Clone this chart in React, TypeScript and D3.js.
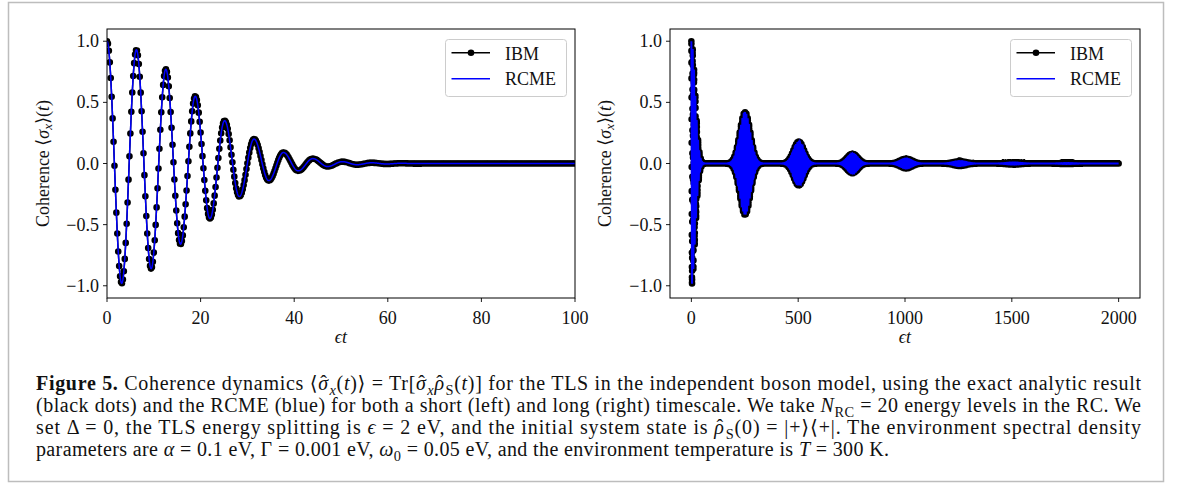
import React from 'react';
import * as d3 from 'd3';

const W = 1182;
const H = 484;

// ---- data ----
// Left panel: x axis εt 0..100, extrema of the oscillation at εt = kπ
const leftXTicks = [0, 20, 40, 60, 80, 100];
const yTicks = [-1, -0.5, 0, 0.5, 1];
const yTickLabels = ['−1.0', '−0.5', '0.0', '0.5', '1.0'];
const leftExtrema = [
  1.0, -0.98, 0.93, -0.86, 0.77, -0.66, 0.55, -0.45, 0.35, -0.27, 0.2, -0.14,
  0.09, -0.06, 0.04, -0.025, 0.015, -0.01, 0.006, -0.004, 0.002, -0.001,
];
const leftStepIBM = 0.2;

// Right panel: x axis εt 0..2000, revivals of the envelope
const rightXTicks = [0, 500, 1000, 1500, 2000];
const revivalTimes = [0, 251.3, 502.7, 754.0, 1005.3, 1256.6, 1508.0, 1759.3];
const revivalAmps = [1.0, 0.42, 0.18, 0.08, 0.04, 0.02, 0.009, 0.004];
const revivalWidths = [17.3, 25, 25, 25, 28, 31, 34, 36];
const rightStepIBM = 0.2;

const legendLabels = ['IBM', 'RCME'];

const FONT = "'Liberation Serif', 'DejaVu Serif', serif";
const DOT_R = 3.3;

function leftValue(t: number): number {
  const k = Math.floor(t / Math.PI);
  const a = leftExtrema[k] ?? 0;
  const b = leftExtrema[k + 1] ?? 0;
  const c = Math.cos(t - k * Math.PI);
  return (a * (1 + c)) / 2 + (b * (1 - c)) / 2;
}

function rightValue(t: number): number {
  let env = 0;
  for (let i = 0; i < revivalTimes.length; i++) {
    const d = t - revivalTimes[i];
    env += revivalAmps[i] * Math.exp(-(d * d) / (2 * revivalWidths[i] * revivalWidths[i]));
  }
  return env * Math.cos(t);
}

function samples(t0: number, t1: number, dt: number, f: (t: number) => number) {
  const n = Math.round((t1 - t0) / dt);
  return d3.range(n + 1).map((i) => {
    const t = t0 + i * dt;
    return [t, f(t)] as [number, number];
  });
}

type Seg = { t: string; i?: boolean; b?: boolean; sub?: boolean; hat?: boolean };

function Rich({ segs, x, y, size, textLength }: { segs: Seg[]; x: number; y: number; size: number; textLength?: number }) {
  let prevSub = false;
  let pendingDx = 0;
  const shift = size * 0.25;
  const out: React.ReactNode[] = [];
  segs.forEach((s, k) => {
    let dy = 0;
    if (s.sub && !prevSub) dy = shift;
    if (!s.sub && prevSub) dy = -shift;
    prevSub = !!s.sub;
    out.push(
      <tspan
        key={k}
        dx={pendingDx || undefined}
        dy={dy || undefined}
        fontStyle={s.i ? 'italic' : undefined}
        fontWeight={s.b ? 'bold' : undefined}
        fontSize={s.sub ? size * 0.72 : undefined}
      >
        {s.t}
      </tspan>
    );
    pendingDx = 0;
    if (s.hat) {
      out.push(
        <tspan key={k + 'h'} dx={-0.42 * size}>
          ˆ
        </tspan>
      );
      pendingDx = 0.09 * size;
    }
  });
  return (
    <text
      x={x}
      y={y}
      fontFamily={FONT}
      fontSize={size}
      fill="#111"
      {...(textLength ? { textLength, lengthAdjust: 'spacing' } : {})}
    >
      {out}
    </text>
  );
}

type PanelProps = {
  id: string;
  left: number;
  right: number;
  top: number;
  bottom: number;
  xDomain: [number, number];
  xTicks: number[];
  ibm: [number, number][];
  rcme: [number, number][];
  ylabelX: number;
  rcmeWidth: number;
};

function Panel(p: PanelProps) {
  const x = d3.scaleLinear().domain(p.xDomain).range([p.left, p.right]);
  const y = d3.scaleLinear().domain([-1.1, 1.1]).range([p.bottom, p.top]);
  const line = d3
    .line<[number, number]>()
    .x((d) => x(d[0]))
    .y((d) => y(d[1]));
  const dots = p.ibm
    .map((d) => {
      const cx = x(d[0]);
      const cy = y(d[1]);
      return `M${(cx - DOT_R).toFixed(2)},${cy.toFixed(2)}a${DOT_R},${DOT_R} 0 1,0 ${2 * DOT_R},0a${DOT_R},${DOT_R} 0 1,0 ${-2 * DOT_R},0`;
    })
    .join('');
  const cy = (p.top + p.bottom) / 2;
  const cx = (p.left + p.right) / 2;
  const lgX = p.right - 8.5 - 121;
  const lgY = 39.5;
  return (
    <g>
      <defs>
        <clipPath id={p.id}>
          <rect x={p.left} y={p.top} width={p.right - p.left} height={p.bottom - p.top} />
        </clipPath>
      </defs>
      <g clipPath={`url(#${p.id})`}>
        <path d={line(p.ibm) || ''} fill="none" stroke="#000" strokeWidth={1.5} />
        <path d={dots} fill="#000" />
        <path d={line(p.rcme) || ''} fill="none" stroke="#0000ff" strokeWidth={p.rcmeWidth} />
      </g>
      <rect x={p.left} y={p.top} width={p.right - p.left} height={p.bottom - p.top} fill="none" stroke="#000" strokeWidth={1} />
      {p.xTicks.map((t) => (
        <g key={t}>
          <line x1={x(t)} x2={x(t)} y1={p.bottom} y2={p.bottom + 4} stroke="#000" strokeWidth={0.9} />
          <text x={x(t)} y={p.bottom + 25.5} textAnchor="middle" fontFamily={FONT} fontSize={18} fill="#111">
            {t}
          </text>
        </g>
      ))}
      {yTicks.map((t, k) => (
        <g key={t}>
          <line x1={p.left - 4} x2={p.left} y1={y(t)} y2={y(t)} stroke="#000" strokeWidth={0.9} />
          <text x={p.left - 8} y={y(t) + 6} textAnchor="end" fontFamily={FONT} fontSize={18} fill="#111">
            {yTickLabels[k]}
          </text>
        </g>
      ))}
      <text x={cx} y={p.bottom + 45} textAnchor="middle" fontFamily={FONT} fontSize={18} fontStyle="italic" fill="#111">
        ϵt
      </text>
      <text
        transform={`translate(${p.ylabelX},${cy}) rotate(-90)`}
        textAnchor="middle"
        dominantBaseline="central"
        fontFamily={FONT}
        fontSize={18}
        fill="#111"
      >
        <tspan>Coherence ⟨</tspan>
        <tspan fontStyle="italic">σ</tspan>
        <tspan fontStyle="italic" fontSize={13} dy={4}>x</tspan>
        <tspan dy={-4}>⟩(</tspan>
        <tspan fontStyle="italic">t</tspan>
        <tspan>)</tspan>
      </text>
      <g>
        <rect x={lgX} y={lgY} width={121} height={57} rx={3} fill="#fff" fillOpacity={0.8} stroke="#cccccc" strokeWidth={1} />
        <line x1={lgX + 6} x2={lgX + 44.5} y1={52.7} y2={52.7} stroke="#000" strokeWidth={1.5} />
        <circle cx={lgX + 25.5} cy={52.7} r={DOT_R} fill="#000" />
        <text x={lgX + 59.5} y={60} fontFamily={FONT} fontSize={18} fill="#111">
          {legendLabels[0]}
        </text>
        <line x1={lgX + 6} x2={lgX + 44.5} y1={78.7} y2={78.7} stroke="#0000ff" strokeWidth={1.5} />
        <text x={lgX + 59.5} y={85} fontFamily={FONT} fontSize={18} fill="#111">
          {legendLabels[1]}
        </text>
      </g>
    </g>
  );
}

const captionLines: Seg[][] = [
  [
    { t: 'Figure 5.', b: true },
    { t: ' Coherence dynamics ⟨' },
    { t: 'σ', i: true, hat: true },
    { t: 'x', i: true, sub: true },
    { t: '(' },
    { t: 't', i: true },
    { t: ')⟩ = Tr[' },
    { t: 'σ', i: true, hat: true },
    { t: 'x', i: true, sub: true },
    { t: 'ρ', i: true, hat: true },
    { t: 'S', sub: true },
    { t: '(' },
    { t: 't', i: true },
    { t: ')] for the TLS in the independent boson model, using the exact analytic result' },
  ],
  [
    { t: '(black dots) and the RCME (blue) for both a short (left) and long (right) timescale. We take ' },
    { t: 'N', i: true },
    { t: 'RC', sub: true },
    { t: ' = 20 energy levels in the RC. We' },
  ],
  [
    { t: 'set Δ = 0, the TLS energy splitting is ' },
    { t: 'ϵ', i: true },
    { t: ' = 2 eV, and the initial system state is ' },
    { t: 'ρ', i: true, hat: true },
    { t: 'S', sub: true },
    { t: '(0) = |+⟩⟨+|. The environment spectral density' },
  ],
  [
    { t: 'parameters are ' },
    { t: 'α', i: true },
    { t: ' = 0.1 eV, Γ = 0.001 eV, ' },
    { t: 'ω', i: true },
    { t: '0', sub: true },
    { t: ' = 0.05 eV, and the environment temperature is ' },
    { t: 'T', i: true },
    { t: ' = 300 K.' },
  ],
];
const captionBaselines = [390, 412, 434, 456];
const captionLengths = [1105, 1105, 1105, 853];

export default function App() {
  const leftIBM = samples(0, 100, leftStepIBM, leftValue);
  const leftRCME = samples(0, 100, 0.05, leftValue);
  const rightIBM = samples(0, 2000, rightStepIBM, rightValue);
  const rightRCME = samples(0, 2000, 0.1, rightValue);
  return (
    <svg
      width={W}
      height={H}
      viewBox={`0 0 ${W} ${H}`}
      style={{ position: 'absolute', left: 0, top: 0, background: '#fff' }}
    >
      <rect x={0} y={0} width={W} height={H} fill="#fff" />
      <rect x={8.5} y={2.5} width={1155} height={479} fill="none" stroke="#bdbdbd" strokeWidth={1.5} />
      <Panel
        id="clipL"
        left={107}
        right={575}
        top={29}
        bottom={298}
        xDomain={[0, 100]}
        xTicks={leftXTicks}
        ibm={leftIBM}
        rcme={leftRCME}
        ylabelX={43}
        rcmeWidth={1.5}
      />
      <Panel
        id="clipR"
        left={670}
        right={1140}
        top={29}
        bottom={298}
        xDomain={[-100, 2100]}
        xTicks={rightXTicks}
        ibm={rightIBM}
        rcme={rightRCME}
        ylabelX={605}
        rcmeWidth={2}
      />
      {captionLines.map((segs, k) => (
        <Rich key={k} segs={segs} x={36} y={captionBaselines[k]} size={20} textLength={captionLengths[k]} />
      ))}
    </svg>
  );
}
